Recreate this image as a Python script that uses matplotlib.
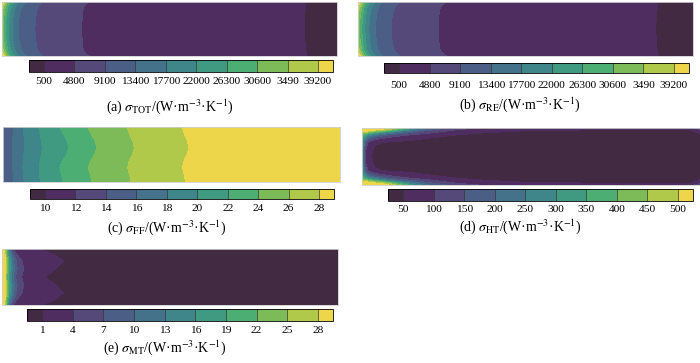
import numpy as np
import matplotlib
matplotlib.use("Agg")
import matplotlib.pyplot as plt
from matplotlib.colors import ListedColormap, BoundaryNorm

plt.rcParams["font.family"] = ["Liberation Serif", "DejaVu Serif"]
plt.rcParams["mathtext.fontset"] = "stix"

W, H = 700, 363

# 11-step palette shared by every panel (below first level ... above last level)
band_colors = ["#412a42", "#4f2d61", "#55497a", "#4a5e86", "#43728a", "#3e8689",
               "#409a82", "#4dae73", "#7cbb58", "#b1c94a", "#eed64b"]

# ---- (a) total entropy generation ----
levels_a = [500, 4800, 9100, 13400, 17700, 22000, 26300, 30600, 34900, 39200]
labels_a = ["500", "4800", "9100", "13400", "17700", "22000", "26300", "30600", "3490", "39200"]
rows_a = [0.0, 0.04, 0.12, 0.3, 0.5, 0.7, 0.88, 0.96, 1.0]
# x (% of length) where the field crosses each level, one value per row
bounds_a = [
    [90.8, 90.7, 90.5, 90.3, 90.2, 90.4, 90.6, 90.8, 91.0],
    [26.0, 25.0, 24.2, 23.9, 23.8, 23.9, 24.2, 25.0, 26.0],
    [12.2, 11.4, 10.5, 10.0, 9.8, 10.0, 10.5, 11.4, 12.2],
    [7.2, 6.5, 5.7, 5.0, 4.9, 5.0, 5.7, 6.5, 7.2],
    [5.0, 4.4, 3.7, 3.2, 3.0, 3.2, 3.7, 4.4, 5.0],
    [3.6, 3.1, 2.5, 2.0, 1.9, 2.0, 2.5, 3.1, 3.6],
    [2.6, 2.1, 1.6, 1.2, 1.0, 1.2, 1.6, 2.1, 2.6],
    [1.8, 1.4, 0.9, 0.5, 0.3, 0.5, 0.9, 1.4, 1.8],
    [1.1, 0.8, 0.3, -0.5, -0.8, -0.5, 0.3, 0.8, 1.1],
    [0.6, 0.3, -0.3, -1.0, -1.2, -1.0, -0.3, 0.3, 0.6],
]
ends_a = (45000, 200)

# ---- (b) reaction ----
levels_b = levels_a
labels_b = labels_a
rows_b = [0.0, 0.04, 0.12, 0.3, 0.5, 0.7, 0.88, 0.96, 1.0]
bounds_b = [
    [89.6, 89.5, 89.3, 89.0, 88.9, 89.0, 89.3, 89.5, 89.6],
    [26.4, 25.3, 24.5, 24.0, 23.9, 24.0, 24.5, 25.3, 26.4],
    [12.4, 11.6, 10.7, 10.1, 10.0, 10.1, 10.7, 11.6, 12.4],
    [7.4, 6.7, 5.9, 5.4, 5.2, 5.4, 5.9, 6.7, 7.4],
    [5.2, 4.6, 3.9, 3.4, 3.2, 3.4, 3.9, 4.6, 5.2],
    [3.8, 3.2, 2.6, 2.2, 2.0, 2.2, 2.6, 3.2, 3.8],
    [2.8, 2.2, 1.7, 1.3, 1.1, 1.3, 1.7, 2.2, 2.8],
    [2.0, 1.5, 1.0, 0.6, 0.4, 0.6, 1.0, 1.5, 2.0],
    [1.3, 0.9, 0.4, -0.5, -0.8, -0.5, 0.4, 0.9, 1.3],
    [0.7, 0.4, -0.2, -1.0, -1.2, -1.0, -0.2, 0.4, 0.7],
]
ends_b = (45000, 200)

# ---- (c) fluid friction ----
levels_c = [10, 12, 14, 16, 18, 20, 22, 24, 26, 28]
labels_c = ["10", "12", "14", "16", "18", "20", "22", "24", "26", "28"]
rows_c = [0.0, 0.12, 0.25, 0.38, 0.5, 0.62, 0.74, 0.87, 1.0]
bounds_c = [
    [-1.5] * 9,
    [-1.0] * 9,
    [-0.5] * 9,
    [3.1, 3.0, 2.9, 2.8, 2.8, 2.8, 2.9, 3.0, 3.1],
    [6.0, 6.2, 6.3, 6.4, 6.2, 6.0, 5.9, 6.1, 6.3],
    [10.6, 11.0, 11.4, 11.7, 11.4, 11.0, 10.7, 10.9, 11.1],
    [16.8, 17.9, 19.0, 19.6, 18.9, 17.6, 16.9, 17.4, 17.8],
    [25.1, 26.1, 27.3, 27.9, 27.2, 25.9, 25.3, 25.9, 26.4],
    [36.8, 37.5, 38.5, 39.0, 38.4, 37.4, 37.0, 37.6, 38.0],
    [53.1, 53.8, 54.7, 55.2, 54.6, 53.7, 53.3, 53.8, 54.2],
]
ends_c = (8, 30)

# ---- (d) heat transfer: value grid, top half (mirrored about the centre line) ----
levels_d = [50, 100, 150, 200, 250, 300, 350, 400, 450, 500]
labels_d = ["50", "100", "150", "200", "250", "300", "350", "400", "450", "500"]
x_d = [0, 1, 2, 4, 7, 10, 15, 20, 28, 36, 50, 97, 100]
y_d = [0.0, 0.03, 0.07, 0.12, 0.18, 0.25, 0.35, 0.5]
z_d = [
    [600, 620, 600, 560, 520, 450, 300, 200, 120, 95, 70, 60, 150],
    [560, 580, 560, 520, 470, 380, 240, 160, 100, 75, 52, 48, 90],
    [480, 470, 430, 380, 300, 230, 160, 115, 70, 52, 46, 44, 55],
    [400, 330, 280, 220, 160, 125, 95, 75, 50, 45, 42, 40, 45],
    [350, 230, 170, 120, 90, 70, 58, 48, 44, 42, 40, 38, 40],
    [320, 150, 90, 55, 48, 45, 42, 40, 38, 38, 37, 36, 36],
    [300, 110, 60, 45, 42, 40, 38, 37, 36, 36, 35, 35, 35],
    [300, 100, 55, 42, 40, 38, 36, 35, 35, 35, 35, 35, 35],
]

# ---- (e) mass transfer ----
levels_e = [1, 4, 7, 10, 13, 16, 19, 22, 25, 28]
labels_e = ["1", "4", "7", "10", "13", "16", "19", "22", "25", "28"]
rows_e = [0.0, 0.1, 0.22, 0.36, 0.5, 0.64, 0.78, 0.9, 1.0]
bounds_e = [
    [11.2, 15.4, 18.3, 15.9, 12.8, 15.9, 18.3, 15.9, 11.8],
    [3.2, 4.5, 6.0, 6.5, 5.8, 6.5, 6.0, 4.5, 3.2],
    [2.6, 3.5, 4.3, 4.5, 4.0, 4.5, 4.3, 3.5, 2.6],
    [2.2, 2.9, 3.5, 3.7, 3.3, 3.7, 3.5, 2.9, 2.2],
    [1.9, 2.4, 2.9, 3.0, 2.7, 3.0, 2.9, 2.4, 1.9],
    [1.6, 2.0, 2.4, 2.5, 2.2, 2.5, 2.4, 2.0, 1.6],
    [1.4, 1.7, 2.0, 2.0, 1.8, 2.0, 2.0, 1.7, 1.4],
    [1.2, 1.4, 1.6, 1.6, 1.4, 1.6, 1.6, 1.4, 1.2],
    [1.0, 1.1, 1.3, 1.3, 1.1, 1.3, 1.3, 1.1, 1.0],
    [0.8, 0.9, 1.0, 1.0, 0.9, 1.0, 1.0, 0.9, 0.8],
]
ends_e = (31, 0)

captions = [
    r"(a) $\sigma_{\rm TOT}$/(W·m$^{-3}$·K$^{-1}$)",
    r"(b) $\sigma_{\rm RE}$/(W·m$^{-3}$·K$^{-1}$)",
    r"(c) $\sigma_{\rm FF}$/(W·m$^{-3}$·K$^{-1}$)",
    r"(d) $\sigma_{\rm HT}$/(W·m$^{-3}$·K$^{-1}$)",
    r"(e) $\sigma_{\rm MT}$/(W·m$^{-3}$·K$^{-1}$)",
]


def band_field(rows, levels, bounds, ends):
    """Curvilinear grid whose nodes sit on the level crossings."""
    b = np.asarray(bounds, float).T
    z = np.asarray(levels, float)
    order = np.argsort(b.mean(axis=0))
    b, z = b[:, order], z[order]
    n = len(rows)
    X = np.column_stack([np.full(n, -3.0), b, np.full(n, 100.0)])
    Z = np.tile(np.r_[ends[0], z, ends[1]], (n, 1))
    Y = np.repeat(np.asarray(rows, float)[:, None], X.shape[1], axis=1)
    return X, Y, Z


def mirrored_field(xs, ys, zs):
    ys = np.asarray(ys, float)
    zs = np.asarray(zs, float)
    Y1 = np.r_[ys, 1.0 - ys[::-1][1:]]
    Z = np.vstack([zs, zs[::-1][1:]])
    X, Y = np.meshgrid(np.asarray(xs, float), Y1)
    return X, Y, Z


def px_axes(fig, x0, y0, x1, y1):
    return fig.add_axes([x0 / W, 1 - y1 / H, (x1 - x0) / W, (y1 - y0) / H])


fig = plt.figure(figsize=(W / 100, H / 100), dpi=100)

cmap = ListedColormap(band_colors[1:-1])
cmap.set_under(band_colors[0])
cmap.set_over(band_colors[-1])

# field, levels, tick labels, field box px, colorbar box px, caption centre px, label pad
panels = [
    (band_field(rows_a, levels_a, bounds_a, ends_a), levels_a, labels_a,
     (2, 2, 337, 56), (29, 60, 333, 72), (170, 107), 3.5),
    (band_field(rows_b, levels_b, bounds_b, ends_b), levels_b, labels_b,
     (358, 2, 693, 56), (384, 63, 689, 73), (520, 105), 5.5),
    (band_field(rows_c, levels_c, bounds_c, ends_c), levels_c, labels_c,
     (3, 127, 340, 182), (30, 189, 334, 199), (167, 228), 3.5),
    (mirrored_field(x_d, y_d, z_d), levels_d, labels_d,
     (362, 128, 700, 185), (388, 189, 693, 201), (520, 227), 3.2),
    (band_field(rows_e, levels_e, bounds_e, ends_e), levels_e, labels_e,
     (2, 249, 338, 305), (27, 309, 333, 321), (165, 348), 3.5),
]

for (X, Y, Z), levels, labels, frect, crect, cap, pad in panels:
    norm = BoundaryNorm(levels, cmap.N)
    ax = px_axes(fig, *frect)
    cs = ax.contourf(X, Y, Z, levels=levels, cmap=cmap, norm=norm, extend="both")
    ax.set_xlim(0, 100)
    ax.set_ylim(1, 0)
    ax.set_xticks([])
    ax.set_yticks([])
    for spine in ax.spines.values():
        spine.set_color("#cfcfcf")
        spine.set_linewidth(0.6)

    cax = px_axes(fig, *crect)
    cb = fig.colorbar(cs, cax=cax, orientation="horizontal", extend="both",
                      extendrect=True, extendfrac=0.055, drawedges=True)
    cb.set_ticks(levels, labels=labels)
    cb.ax.tick_params(length=0, labelsize=8.2, pad=pad)
    cb.outline.set_linewidth(0.6)
    cb.dividers.set_color("#333333")
    cb.dividers.set_linewidth(0.5)

for cap_text, p in zip(captions, panels):
    cx, cy = p[5]
    fig.text(cx / W, 1 - cy / H, cap_text, ha="center", va="center", fontsize=10)

fig.savefig("out.png", dpi=100)
